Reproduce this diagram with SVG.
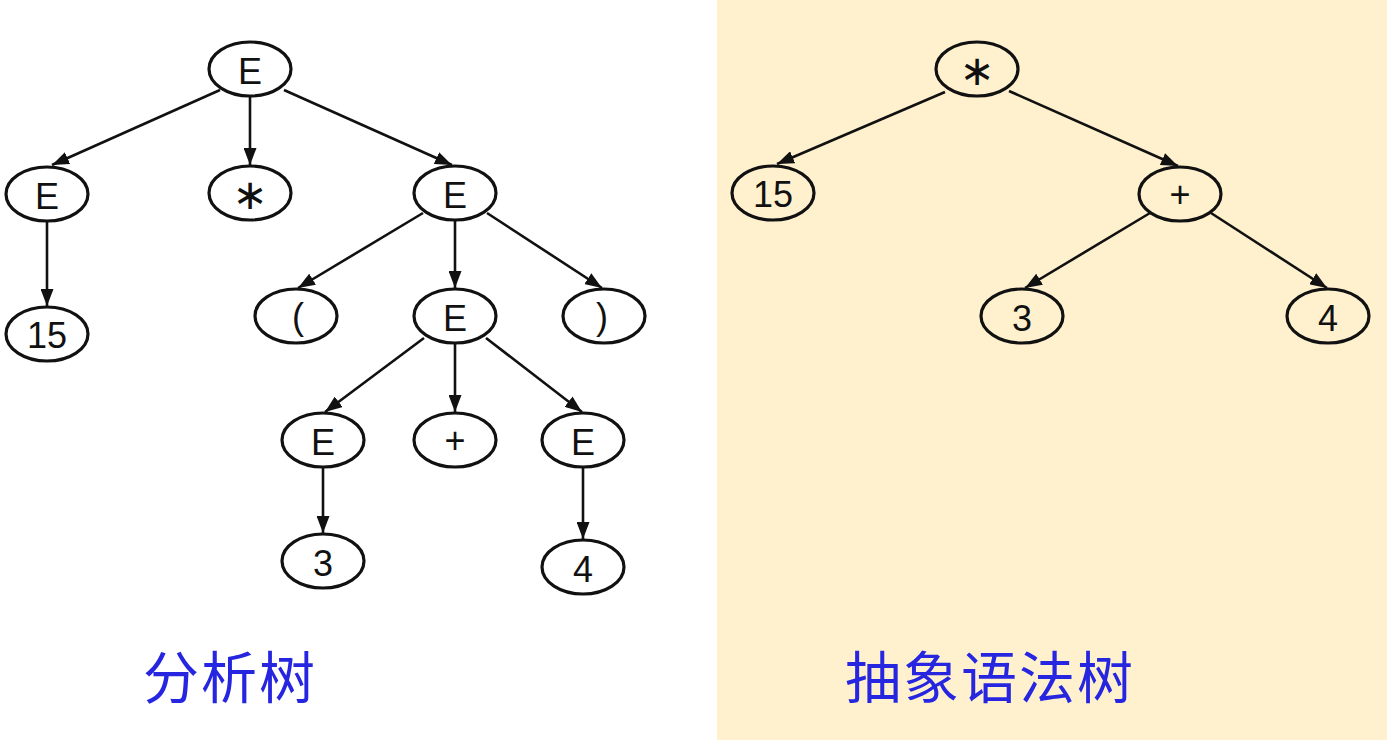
<svg xmlns="http://www.w3.org/2000/svg" width="1387" height="745" viewBox="0 0 1387 745">
<style>
.n ellipse{fill:none;stroke:#111;stroke-width:3.2}
.n text{font-family:"Liberation Sans",Arial,sans-serif;font-size:36px;fill:#111;text-anchor:middle}
.n text.st{font-family:"DejaVu Sans",sans-serif;font-size:42px}
.e line{stroke:#111;stroke-width:2.6}
.lbl{font-family:"Noto Sans CJK SC",sans-serif;font-size:56px;fill:#2626E0;text-anchor:middle;letter-spacing:2px}
</style>
<defs>
<marker id="ah" viewBox="0 0 17 13" refX="17" refY="6.5" markerWidth="17" markerHeight="13" markerUnits="userSpaceOnUse" orient="auto">
<path d="M0,0 L17,6.5 L0,13 Z" fill="#111"/>
</marker>
</defs>
<rect x="0" y="0" width="1387" height="745" fill="#ffffff"/>
<rect x="717" y="0" width="670" height="740" fill="#FFF1CE"/>
<g id="connectors" class="e">
<line x1="220" y1="90" x2="52" y2="165" marker-end="url(#ah)"/>
<line x1="250" y1="96" x2="250" y2="165" marker-end="url(#ah)"/>
<line x1="284" y1="90" x2="452" y2="165" marker-end="url(#ah)"/>
<line x1="47" y1="221" x2="47" y2="306" marker-end="url(#ah)"/>
<line x1="423" y1="213" x2="298" y2="288" marker-end="url(#ah)"/>
<line x1="455" y1="220" x2="455" y2="288" marker-end="url(#ah)"/>
<line x1="487" y1="213" x2="602" y2="288" marker-end="url(#ah)"/>
<line x1="424" y1="338" x2="325" y2="412" marker-end="url(#ah)"/>
<line x1="455" y1="343" x2="455" y2="412" marker-end="url(#ah)"/>
<line x1="486" y1="338" x2="582" y2="412" marker-end="url(#ah)"/>
<line x1="323" y1="467" x2="323" y2="533" marker-end="url(#ah)"/>
<line x1="583" y1="467" x2="583" y2="539" marker-end="url(#ah)"/>
<line x1="945" y1="92" x2="777" y2="164" marker-end="url(#ah)"/>
<line x1="1009" y1="91" x2="1178" y2="166" marker-end="url(#ah)"/>
<line x1="1150" y1="213" x2="1025" y2="288" marker-end="url(#ah)"/>
<line x1="1211" y1="213" x2="1327" y2="288" marker-end="url(#ah)"/>
</g>
<g id="pE0" class="n"><ellipse cx="250" cy="69" rx="41" ry="27"/><text x="250" y="84">E</text></g>
<g id="pE1" class="n"><ellipse cx="47" cy="194" rx="41" ry="27"/><text x="47" y="209">E</text></g>
<g id="pStar" class="n"><ellipse cx="250" cy="193" rx="41" ry="27"/><text class="st" x="250" y="209">∗</text></g>
<g id="pE2" class="n"><ellipse cx="455" cy="193" rx="41" ry="27"/><text x="455" y="208">E</text></g>
<g id="p15" class="n"><ellipse cx="47" cy="334" rx="41" ry="27"/><text x="47" y="348">15</text></g>
<g id="pLp" class="n"><ellipse cx="296" cy="316" rx="41" ry="27"/><text x="298" y="329">(</text></g>
<g id="pE3" class="n"><ellipse cx="455" cy="316" rx="41" ry="27"/><text x="455" y="331">E</text></g>
<g id="pRp" class="n"><ellipse cx="604" cy="316" rx="41" ry="27"/><text x="602" y="329">)</text></g>
<g id="pE4" class="n"><ellipse cx="323" cy="440" rx="41" ry="27"/><text x="323" y="455">E</text></g>
<g id="pPlus" class="n"><ellipse cx="455" cy="440" rx="41" ry="27"/><text x="455" y="453">+</text></g>
<g id="pE5" class="n"><ellipse cx="583" cy="440" rx="41" ry="27"/><text x="583" y="455">E</text></g>
<g id="p3" class="n"><ellipse cx="323" cy="561" rx="41" ry="27"/><text x="323" y="576">3</text></g>
<g id="p4" class="n"><ellipse cx="583" cy="567" rx="41" ry="27"/><text x="583" y="582">4</text></g>
<g id="aStar" class="n"><ellipse cx="977" cy="69" rx="41" ry="27"/><text class="st" x="977" y="85">∗</text></g>
<g id="a15" class="n"><ellipse cx="773" cy="193" rx="41" ry="27"/><text x="773" y="207">15</text></g>
<g id="aPlus" class="n"><ellipse cx="1180" cy="194" rx="41" ry="27"/><text x="1180" y="207">+</text></g>
<g id="a3" class="n"><ellipse cx="1022" cy="316" rx="41" ry="27"/><text x="1022" y="331">3</text></g>
<g id="a4" class="n"><ellipse cx="1328" cy="316" rx="41" ry="27"/><text x="1328" y="331">4</text></g>
<text class="lbl" x="230" y="698">分析树</text>
<text class="lbl" x="990" y="698">抽象语法树</text>
</svg>
